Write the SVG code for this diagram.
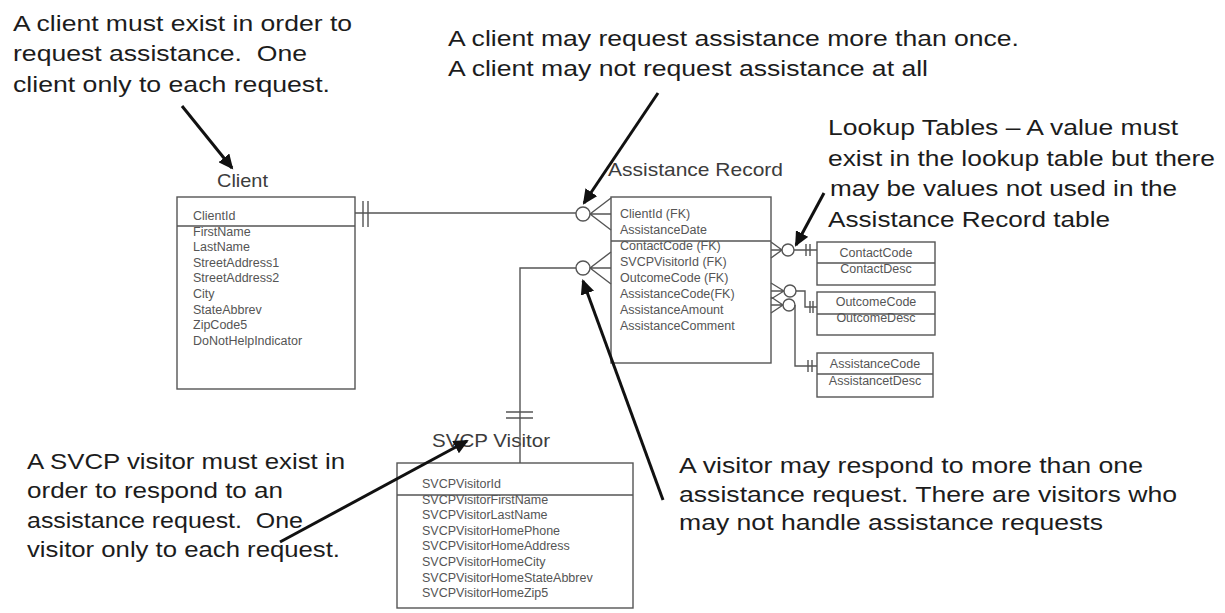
<svg xmlns="http://www.w3.org/2000/svg" width="1225" height="613" viewBox="0 0 1225 613">
<style>
.note{font-family:"Liberation Sans",Arial,sans-serif;font-size:22px;fill:#1c1c1c;white-space:pre}
.title{font-family:"Liberation Sans",Arial,sans-serif;font-size:19px;fill:#3c3c3c}
.row{font-family:"Liberation Sans",Arial,sans-serif;font-size:12.5px;fill:#555}
.rowc{font-family:"Liberation Sans",Arial,sans-serif;font-size:12.5px;fill:#555;text-anchor:middle}
.box{fill:#fff;stroke:#555;stroke-width:1.4}
.ln{fill:none;stroke:#555;stroke-width:1.4}
.arw{fill:none;stroke:#111;stroke-width:3;marker-end:url(#ah)}
</style>
<defs>
<marker id="ah" markerUnits="userSpaceOnUse" markerWidth="16" markerHeight="14" refX="13" refY="7" orient="auto">
<path d="M0,0 L15,7 L0,14 Z" fill="#111"/>
</marker>
</defs>
<rect width="1225" height="613" fill="#fff"/>

<g id="client">
<text class="title" x="217" y="187" textLength="51" lengthAdjust="spacingAndGlyphs">Client</text>
<rect class="box" x="177" y="197" width="178" height="192"/>
<line class="ln" x1="177" y1="226" x2="355" y2="226"/>
<text class="row" x="193" y="220">ClientId</text>
<text class="row" x="193" y="235.6">FirstName</text>
<text class="row" x="193" y="251.2">LastName</text>
<text class="row" x="193" y="266.8">StreetAddress1</text>
<text class="row" x="193" y="282.4">StreetAddress2</text>
<text class="row" x="193" y="298">City</text>
<text class="row" x="193" y="313.6">StateAbbrev</text>
<text class="row" x="193" y="329.2">ZipCode5</text>
<text class="row" x="193" y="344.8">DoNotHelpIndicator</text>
</g>

<g id="assistance-record">
<text class="title" x="608" y="176" textLength="175" lengthAdjust="spacingAndGlyphs">Assistance Record</text>
<rect class="box" x="611" y="197" width="160" height="166"/>
<line class="ln" x1="611" y1="241" x2="771" y2="241"/>
<text class="row" x="620" y="218">ClientId (FK)</text>
<text class="row" x="620" y="234">AssistanceDate</text>
<text class="row" x="620" y="250">ContactCode (FK)</text>
<text class="row" x="620" y="266">SVCPVisitorId (FK)</text>
<text class="row" x="620" y="282">OutcomeCode (FK)</text>
<text class="row" x="620" y="298">AssistanceCode(FK)</text>
<text class="row" x="620" y="314">AssistanceAmount</text>
<text class="row" x="620" y="330">AssistanceComment</text>
</g>

<g id="svcp-visitor">
<text class="title" x="432" y="447" textLength="118" lengthAdjust="spacingAndGlyphs">SVCP Visitor</text>
<rect class="box" x="397" y="463" width="236" height="145"/>
<line class="ln" x1="397" y1="495" x2="633" y2="495"/>
<text class="row" x="422" y="488">SVCPVisitorId</text>
<text class="row" x="422" y="503.6">SVCPVisitorFirstName</text>
<text class="row" x="422" y="519.2">SVCPVisitorLastName</text>
<text class="row" x="422" y="534.8">SVCPVisitorHomePhone</text>
<text class="row" x="422" y="550.4">SVCPVisitorHomeAddress</text>
<text class="row" x="422" y="566">SVCPVisitorHomeCity</text>
<text class="row" x="422" y="581.6">SVCPVisitorHomeStateAbbrev</text>
<text class="row" x="422" y="597.2">SVCPVisitorHomeZip5</text>
</g>

<g id="contact">
<rect class="box" x="817" y="242" width="118" height="43"/>
<line class="ln" x1="817" y1="263" x2="935" y2="263"/>
<text class="rowc" x="876" y="257">ContactCode</text>
<text class="rowc" x="876" y="273">ContactDesc</text>
</g>

<g id="outcome">
<rect class="box" x="817" y="292" width="118" height="43"/>
<line class="ln" x1="817" y1="314" x2="935" y2="314"/>
<text class="rowc" x="876" y="306">OutcomeCode</text>
<text class="rowc" x="876" y="322">OutcomeDesc</text>
</g>

<g id="assistance-code">
<rect class="box" x="817" y="353" width="116" height="44"/>
<line class="ln" x1="817" y1="374" x2="933" y2="374"/>
<text class="rowc" x="875" y="368">AssistanceCode</text>
<text class="rowc" x="875" y="385">AssistancetDesc</text>
</g>

<g id="connectors">
<path class="ln" d="M355,213 H576"/>
<path class="ln" d="M363,201 V227 M368,201 V227"/>
<circle class="ln" cx="583" cy="214" r="7"/>
<path class="ln" d="M590,214 L611,198 M590,214 L611,214 M590,214 L611,230"/>
<path class="ln" d="M520,463 V268 H576"/>
<path class="ln" d="M506,412 H533 M506,418 H533"/>
<circle class="ln" cx="583" cy="268" r="7"/>
<path class="ln" d="M590,268 L611,252 M590,268 L611,268 M590,268 L611,284"/>
<path class="ln" d="M771,242 L782,250 M771,250 L782,250 M771,258 L782,250"/>
<circle class="ln" cx="788" cy="250" r="6"/>
<path class="ln" d="M794,250 H817 M806,244 V256 M810,244 V256"/>
<path class="ln" d="M771,283 L784,291 M771,291 L784,291 M771,299 L784,291"/>
<circle class="ln" cx="790" cy="291" r="6"/>
<path class="ln" d="M796,291 H805 V307 H817 M810,301 V313 M813,301 V313"/>
<path class="ln" d="M771,297 L783,305 M771,305 L783,305 M771,313 L783,305"/>
<circle class="ln" cx="789" cy="305" r="6"/>
<path class="ln" d="M795,305 V366 H817 M808,360 V372 M812,360 V372"/>
<path class="arw" d="M182,106 L232,168"/>
<path class="arw" d="M658,93 L584,203"/>
<path class="arw" d="M824,193 L796,245"/>
<path class="arw" d="M663,500 L583,281"/>
<path class="arw" d="M280,542 L467,441"/>
</g>

<g id="notes">
<text class="note" x="13" y="31" textLength="339" lengthAdjust="spacingAndGlyphs">A client must exist in order to</text>
<text class="note" x="13" y="61" textLength="294" lengthAdjust="spacingAndGlyphs">request assistance.  One</text>
<text class="note" x="13" y="92" textLength="317" lengthAdjust="spacingAndGlyphs">client only to each request.</text>

<text class="note" x="448" y="46" textLength="571" lengthAdjust="spacingAndGlyphs">A client may request assistance more than once.</text>
<text class="note" x="448" y="76" textLength="480" lengthAdjust="spacingAndGlyphs">A client may not request assistance at all</text>

<text class="note" x="828" y="135" textLength="350" lengthAdjust="spacingAndGlyphs">Lookup Tables – A value must</text>
<text class="note" x="828" y="166" textLength="387" lengthAdjust="spacingAndGlyphs">exist in the lookup table but there</text>
<text class="note" x="830" y="196" textLength="347" lengthAdjust="spacingAndGlyphs">may be values not used in the</text>
<text class="note" x="828" y="227" textLength="282" lengthAdjust="spacingAndGlyphs">Assistance Record table</text>

<text class="note" x="27" y="469" textLength="318" lengthAdjust="spacingAndGlyphs">A SVCP visitor must exist in</text>
<text class="note" x="27" y="498" textLength="256" lengthAdjust="spacingAndGlyphs">order to respond to an</text>
<text class="note" x="27" y="528" textLength="276" lengthAdjust="spacingAndGlyphs">assistance request.  One</text>
<text class="note" x="27" y="557" textLength="313" lengthAdjust="spacingAndGlyphs">visitor only to each request.</text>

<text class="note" x="679" y="473" textLength="464" lengthAdjust="spacingAndGlyphs">A visitor may respond to more than one</text>
<text class="note" x="679" y="502" textLength="498" lengthAdjust="spacingAndGlyphs">assistance request. There are visitors who</text>
<text class="note" x="679" y="530" textLength="424" lengthAdjust="spacingAndGlyphs">may not handle assistance requests</text>
</g>
</svg>
